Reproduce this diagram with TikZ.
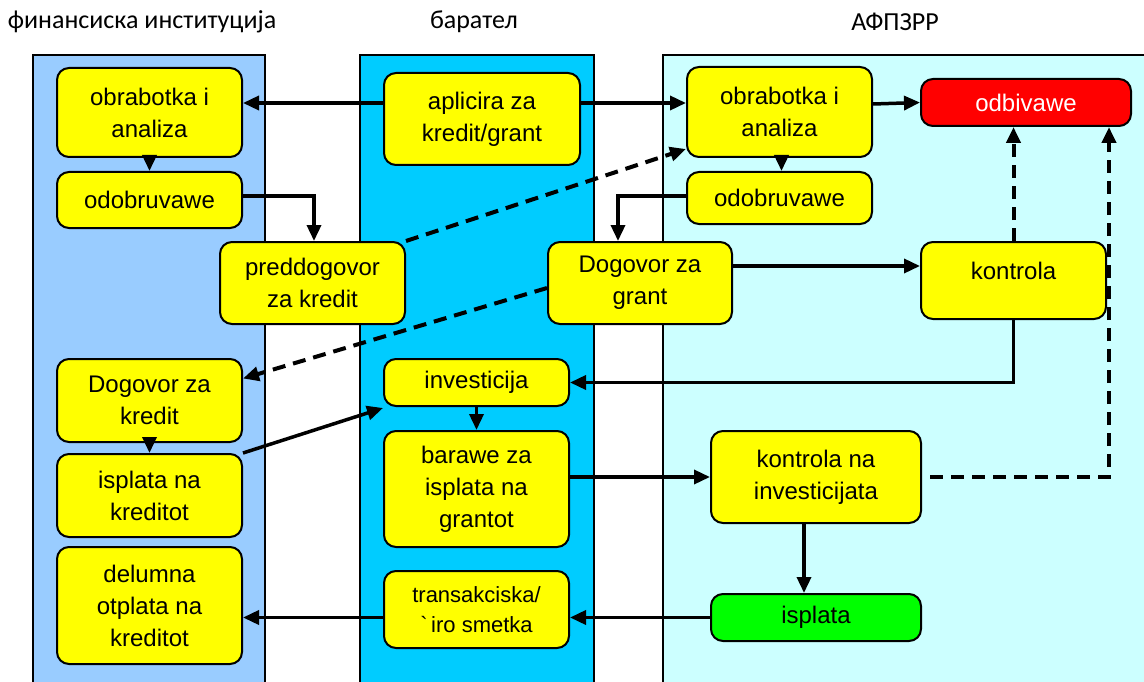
\documentclass[tikz,border=0pt]{standalone}
\usepackage{fontspec}
\setmainfont{Liberation Sans}
\newfontfamily\titlefont{Carlito}
\usetikzlibrary{arrows.meta}
\definecolor{laneA}{HTML}{99CCFF}
\definecolor{laneB}{HTML}{00CCFF}
\definecolor{laneC}{HTML}{CCFFFF}
\definecolor{boxY}{HTML}{FFFF00}
\definecolor{boxR}{HTML}{FF0000}
\definecolor{boxG}{HTML}{00FF00}
\tikzset{
  lane/.style={draw=black, line width=1.5pt},
  box/.style={draw=black, line width=2pt, rounded corners=12pt, fill=boxY, align=center, inner sep=0pt,
    font=\fontsize{24}{32}\selectfont},
  ttl/.style={font=\titlefont\fontsize{26}{30}\selectfont, inner sep=0pt},
  arr/.style={line width=3.5pt, -{Triangle[length=16pt,width=14pt]}},
  darr/.style={line width=4pt, dash pattern=on 13pt off 8pt, -{Triangle[length=16pt,width=14pt]}},
}
\begin{document}
\begin{tikzpicture}[x=1pt,y=-1pt]
\useasboundingbox (0,0) rectangle (1144,682);
% lanes
\fill[laneA] (33,55) rectangle (265,700);
\draw[lane] (33,700) -- (33,55) -- (265,55) -- (265,700);
\fill[laneB] (360,55) rectangle (594,700);
\draw[lane] (360,700) -- (360,55) -- (594,55) -- (594,700);
\fill[laneC] (663,55) rectangle (1160,700);
\draw[lane] (663,700) -- (663,55) -- (1160,55);
% titles
\node[ttl] (t1) at (142,22) {финансиска институција};
\node[ttl] (t2) at (474,22) {барател};
\node[ttl] (t3) at (895,22) {АФПЗРР};
% boxes
\node[box, minimum width=185pt, minimum height=89pt] (fiob) at (149.5,112.5) {obrabotka i\\analiza};
\node[box, minimum width=185pt, minimum height=56pt] (fiodo) at (149.5,200) {odobruvawe};
\node[box, minimum width=196pt, minimum height=92pt] (apl) at (482,119) {aplicira za\\kredit/grant};
\node[box, minimum width=185pt, minimum height=82pt] (prd) at (312.5,283) {preddogovor\\za kredit};
\node[box, minimum width=185pt, minimum height=90pt] (afob) at (779.5,112) {obrabotka i\\analiza};
\node[box, fill=boxR, text=white, minimum width=210pt, minimum height=47pt] (odb) at (1026,102.5) {odbivawe};
\node[box, minimum width=185pt, minimum height=52pt] (afodo) at (779.5,198) {odobruvawe};
\node[box, minimum width=184pt, minimum height=82pt] (dgg) at (640,283) {Dogovor za\\grant};
\node[box, minimum width=185pt, minimum height=77pt] (kon) at (1013.5,280.5) {kontrola\\[-12pt]~};
\node[box, minimum width=185pt, minimum height=83pt] (dgk) at (149.5,400.5) {Dogovor za\\kredit};
\node[box, minimum width=185pt, minimum height=83pt] (isk) at (149.5,495.5) {isplata na\\kreditot};
\node[box, minimum width=185pt, minimum height=117pt] (del) at (149.5,605.5) {delumna\\otplata na\\kreditot};
\node[box, minimum width=185pt, minimum height=47pt] (inv) at (476.5,382.5) {investicija};
\node[box, minimum width=185pt, minimum height=116pt] (bar) at (476.5,489) {barawe za\\isplata na\\grantot};
\node[box, minimum width=185pt, minimum height=77pt, font=\fontsize{22}{30}\selectfont] (tra) at (476.5,609.5) {transakciska/\\\textasciigrave\,iro smetka};
\node[box, minimum width=210pt, minimum height=92pt] (kni) at (816,477) {kontrola na\\investicijata};
\node[box, fill=boxG, minimum width=210pt, minimum height=47pt] (isp) at (816,617.5) {isplata};
% connectors
\draw[arr] ([yshift=16pt]apl.west) -- ([yshift=16pt]apl.west -| fiob.east);
\draw[arr] ([yshift=16pt]apl.east) -- ([yshift=16pt]apl.east -| afob.west);
\draw[arr] (fiob.south) -- (fiodo.north);
\draw[arr] ([yshift=4pt]fiodo.east) -| ([xshift=1.5pt]prd.north);
\draw[darr] (prd.north east) -- ([yshift=9pt]afob.south west);
\draw[arr] ([yshift=8pt]afob.east) -- (odb.west);
\draw[arr] ([xshift=2pt]afob.south) -- ([xshift=2pt]afodo.north);
\draw[arr] ([yshift=2pt]afodo.west) -| ([xshift=-22pt]dgg.north);
\draw[arr] ([yshift=17pt]dgg.east) -- ([yshift=17pt]dgg.east -| kon.west);
\draw[darr] ([yshift=-5pt]dgg.west) -- ([yshift=22pt]dgk.east);
\draw[darr] (kon.north) -- (kon.north |- odb.south);
\draw[arr] (kon.south) |- (inv.east);
\draw[arr] (inv.south) -- (bar.north);
\draw[arr] (dgk.south) -- (isk.north);
\draw[arr] (isk.north east) -- ([yshift=-1pt]inv.south west);
\draw[arr] (kni.west -| bar.east) -- (kni.west);
\draw[darr] ([xshift=8pt]kni.east) -| ([xshift=-23pt]odb.south east);
\draw[arr] ([xshift=-12pt]kni.south) -- ([xshift=-12pt]isp.north);
\draw[arr] (isp.west) -- (isp.west -| tra.east);
\draw[arr] (isp.west -| tra.west) -- (isp.west -| del.east);
\end{tikzpicture}
\end{document}
